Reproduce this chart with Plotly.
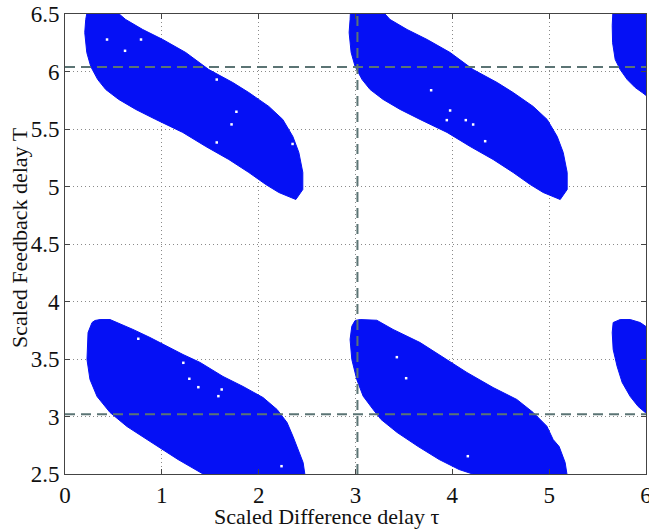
import plotly.graph_objects as go

# Stability region outlines (tau, T)
blobA_tau = [0.235, 0.49, 0.627, 0.803, 1.010, 1.247, 1.485, 1.733, 1.898, 2.105, 2.249, 2.353, 2.415, 2.456, 2.456, 2.384,
             2.208, 2.074, 1.898, 1.691, 1.454, 1.216, 0.937, 0.731, 0.555, 0.421, 0.338, 0.266, 0.225, 0.204, 0.214]
blobA_T = [6.55, 6.55, 6.452, 6.365, 6.278, 6.165, 6.017, 5.904, 5.817, 5.696, 5.583, 5.435, 5.296, 5.122, 4.974, 4.887,
           4.948, 5.017, 5.122, 5.235, 5.348, 5.470, 5.583, 5.670, 5.757, 5.843, 5.930, 6.043, 6.165, 6.339, 6.452]

blobB_tau = [2.95, 3.25, 3.357, 3.533, 3.740, 3.977, 4.215, 4.463, 4.628, 4.835, 4.979, 5.083, 5.145, 5.186, 5.186, 5.114,
             4.938, 4.804, 4.628, 4.421, 4.184, 3.946, 3.667, 3.461, 3.285, 3.151, 3.068, 2.996, 2.955, 2.934, 2.944]
blobB_T = [6.55, 6.55, 6.452, 6.365, 6.278, 6.165, 6.017, 5.904, 5.817, 5.696, 5.583, 5.435, 5.296, 5.122, 4.974, 4.887,
           4.948, 5.017, 5.122, 5.235, 5.348, 5.470, 5.583, 5.670, 5.757, 5.843, 5.930, 6.043, 6.165, 6.339, 6.452]

blobC_tau = [5.66, 6.2, 6.2, 6.05, 5.961, 5.888, 5.806, 5.733, 5.682, 5.655, 5.651, 5.655]
blobC_T = [6.55, 6.55, 5.70, 5.76, 5.817, 5.861, 5.930, 6.017, 6.104, 6.25, 6.40, 6.50]

blobD_tau = [0.310, 0.362, 0.465, 0.537, 0.702, 0.878, 1.054, 1.219, 1.395, 1.632, 1.839, 2.045, 2.190, 2.293, 2.355,
             2.407, 2.459, 2.479, 2.479, 1.519, 1.426, 1.167, 0.950, 0.847, 0.640, 0.465, 0.331, 0.258, 0.227, 0.238, 0.279]
blobD_T = [3.835, 3.843, 3.843, 3.817, 3.757, 3.687, 3.609, 3.539, 3.470, 3.348, 3.261, 3.165, 3.061, 2.948, 2.826,
           2.713, 2.600, 2.487, 2.409, 2.409, 2.5, 2.626, 2.739, 2.800, 2.913, 3.035, 3.174, 3.322, 3.496, 3.730, 3.817]

blobE_tau = [2.996, 3.048, 3.220, 3.388, 3.667, 3.943, 4.150, 4.421, 4.666, 4.835, 4.976, 5.041, 5.103, 5.165, 5.186,
             5.186, 4.360, 4.246, 4.070, 3.864, 3.647, 3.430, 3.264, 3.182, 3.079, 3.013, 2.962, 2.944, 2.962]
blobE_T = [3.835, 3.843, 3.837, 3.757, 3.643, 3.496, 3.383, 3.252, 3.148, 3.035, 2.916, 2.800, 2.739, 2.600, 2.487,
           2.409, 2.409, 2.490, 2.539, 2.626, 2.739, 2.861, 2.974, 3.061, 3.177, 3.322, 3.496, 3.670, 3.785]

blobF_tau = [5.661, 5.733, 5.837, 5.940, 6.043, 6.147, 6.147, 5.992, 5.919, 5.837, 5.754, 5.702, 5.661, 5.651]
blobF_T = [3.817, 3.843, 3.843, 3.817, 3.757, 3.626, 2.974, 3.035, 3.087, 3.174, 3.296, 3.435, 3.583, 3.730]

blobs = [(blobA_tau, blobA_T), (blobB_tau, blobB_T), (blobC_tau, blobC_T),
         (blobD_tau, blobD_T), (blobE_tau, blobE_T), (blobF_tau, blobF_T)]

# isolated unstable grid points inside the regions (white specks)
speck_tau = [0.434, 0.785, 0.620, 1.567, 1.567, 1.77, 1.72, 2.35,
             3.781, 3.977, 3.943, 4.139, 4.215, 4.339,
             0.757, 1.222, 1.284, 1.377, 1.618, 1.584, 2.236,
             3.427, 3.523, 4.160]
speck_T = [6.278, 6.278, 6.180, 5.930, 5.383, 5.65, 5.54, 5.37,
           5.837, 5.661, 5.577, 5.577, 5.539, 5.394,
           3.676, 3.467, 3.328, 3.255, 3.235, 3.177, 2.568,
           3.516, 3.333, 2.655]

ref_tau = 3.02
ref_T = [3.02, 6.04]

x_ticks = [0, 1, 2, 3, 4, 5, 6]
y_ticks = [2.5, 3, 3.5, 4, 4.5, 5, 5.5, 6, 6.5]
y_ticklabels = ["2.5", "3", "3.5", "4", "4.5", "5", "5.5", "6", "6.5"]

BLUE = "#0510f5"
fig = go.Figure()
for bx, by in blobs:
    fig.add_trace(go.Scatter(x=bx + [bx[0]], y=by + [by[0]], mode="lines", fill="toself",
                             fillcolor=BLUE, line=dict(color=BLUE, width=1), hoverinfo="skip",
                             showlegend=False))
fig.add_trace(go.Scatter(x=speck_tau, y=speck_T, mode="markers", hoverinfo="skip", showlegend=False,
                         marker=dict(color="white", size=2.5, symbol="square", line=dict(width=0))))

dash_style = dict(color="#5b7474", width=2, dash="10px,6px")
for t in ref_T:
    fig.add_shape(type="line", xref="x", yref="y", x0=0, x1=6, y0=t, y1=t, line=dash_style, layer="above")
fig.add_shape(type="line", xref="x", yref="y", x0=ref_tau, x1=ref_tau, y0=2.5, y1=6.5, line=dash_style, layer="above")

FAM = "Liberation Serif, Times New Roman, serif"
axis_common = dict(showline=True, linecolor="#444444", linewidth=1, mirror="ticks", ticks="inside",
                   ticklen=5, tickcolor="#444444", showgrid=True, gridcolor="#8a8a8a", griddash="1px,3px",
                   gridwidth=1, zeroline=False, automargin=False, ticklabeloverflow="allow",
                   tickfont=dict(size=23, family=FAM, color="#111111"))
fig.update_xaxes(range=[0, 6], tickvals=x_ticks, ticktext=[str(v) for v in x_ticks], **axis_common)
fig.update_yaxes(range=[2.5, 6.5], tickvals=y_ticks, ticktext=y_ticklabels, **axis_common)

# plot area sits at page x 65..646, y 14..474
fig.add_annotation(text="Scaled Difference delay τ", xref="paper", yref="paper", x=(326 - 65) / 581,
                   y=(474 - 516) / 460, xanchor="center", yanchor="middle", showarrow=False,
                   font=dict(size=22, family=FAM, color="#111111"))
fig.add_annotation(text="Scaled Feedback delay T", xref="paper", yref="paper", x=(20 - 65) / 581,
                   y=(474 - 238) / 460, xanchor="center", yanchor="middle", textangle=-90, showarrow=False,
                   font=dict(size=22, family=FAM, color="#111111"))

fig.update_layout(width=649, height=529, margin=dict(l=65, r=3, t=14, b=55),
                  plot_bgcolor="white", paper_bgcolor="white")
fig.write_html("out.html", config={"displayModeBar": False},
               post_script="document.body.style.margin='0px';document.body.style.overflow='hidden';"
                           "document.documentElement.style.overflow='hidden';")
